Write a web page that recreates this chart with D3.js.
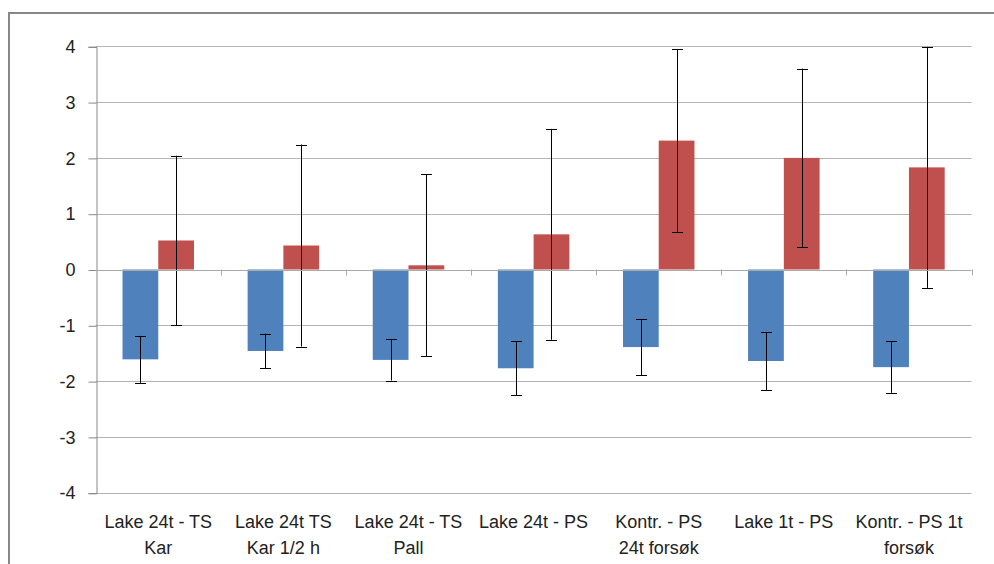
<!DOCTYPE html>
<html><head><meta charset="utf-8">
<script src="https://cdn.jsdelivr.net/npm/d3@7"></script>
<style>body{margin:0;background:#fff}svg{display:block}</style>
</head><body>
<svg id="c" width="994" height="564"></svg>
<script>
const categories = [["Lake 24t - TS","Kar"],["Lake 24t TS","Kar 1/2 h"],["Lake 24t - TS","Pall"],["Lake 24t - PS",""],["Kontr. - PS","24t forsøk"],["Lake 1t - PS",""],["Kontr. - PS 1t","forsøk"]];
const blueValues = [-1.61,-1.46,-1.62,-1.77,-1.39,-1.64,-1.75];
const blueErrors = [0.42,0.31,0.37,0.48,0.50,0.52,0.46];
const redValues = [0.52,0.43,0.075,0.63,2.31,2.00,1.83];
const redErrors = [1.52,1.81,1.63,1.89,1.64,1.60,2.16];
const yTicks = [-4,-3,-2,-1,0,1,2,3,4];

const svg = d3.select("#c");
const L = 95.7, R = 971.5, T = 46.3, B = 492.7;
const font = "'Liberation Sans', Arial, sans-serif";

svg.append("rect").attr("x",9).attr("y",13).attr("width",1000).attr("height",600)
  .attr("fill","none").attr("stroke","#878787").attr("stroke-width",2);

const y = d3.scaleLinear().domain([-4,4]).range([B,T]);
const x0 = d3.scaleBand().domain(d3.range(categories.length)).range([L,R]).paddingInner(0).paddingOuter(0);
const x1 = d3.scaleBand().domain(["b","r"]).range([0,x0.bandwidth()]).paddingOuter(0.75).paddingInner(0);

// gridlines
svg.append("g").selectAll("line").data(yTicks).join("line")
  .attr("x1",L).attr("x2",R).attr("y1",d=>Math.round(y(d))+0.5).attr("y2",d=>Math.round(y(d))+0.5)
  .attr("stroke","#b4b4b4").attr("stroke-width",1);

// y axis
const yAxis = d3.axisLeft(y).tickValues(yTicks).tickSize(8).tickPadding(13).tickFormat(d3.format("d"));
const ga = svg.append("g").attr("transform",`translate(${Math.round(L)+0.5},0.5)`).call(yAxis);
ga.select(".domain").attr("stroke","#888");
ga.selectAll(".tick line").attr("stroke","#888");
ga.selectAll(".tick text").attr("font-family",font).attr("font-size",18).attr("fill","#222")
  .attr("font-family",font).text(d=>d<0?"-"+Math.abs(d):d);
ga.attr("font-family",font);

// bars
const groups = svg.append("g").selectAll("g").data(categories.map((c,i)=>i)).join("g")
  .attr("transform",i=>`translate(${x0(i)},0)`);
groups.append("rect").attr("x",x1("b")).attr("width",x1.bandwidth())
  .attr("y",i=>y(Math.max(0,blueValues[i]))).attr("height",i=>Math.abs(y(blueValues[i])-y(0)))
  .attr("fill","#4F81BD");
groups.append("rect").attr("x",x1("r")).attr("width",x1.bandwidth())
  .attr("y",i=>y(Math.max(0,redValues[i]))).attr("height",i=>Math.abs(y(redValues[i])-y(0)))
  .attr("fill","#C0504D");

// zero axis line with ticks
svg.append("line").attr("x1",L).attr("x2",R).attr("y1",Math.round(y(0))+0.5).attr("y2",Math.round(y(0))+0.5)
  .attr("stroke","#aaa");
svg.append("g").selectAll("line").data(d3.range(1,categories.length+1)).join("line")
  .attr("x1",i=>Math.round(L+i*x0.bandwidth())+0.5).attr("x2",i=>Math.round(L+i*x0.bandwidth())+0.5)
  .attr("y1",y(0)).attr("y2",y(0)+6).attr("stroke","#aaa");

// error bars
function errBars(key, vals, errs){
  const g = groups.append("g");
  const cx = i => Math.round(x0(i)+x1(key)+x1.bandwidth()/2)+0.5 - x0(i);
  g.append("line").attr("x1",cx).attr("x2",cx)
    .attr("y1",i=>y(vals[i]+errs[i])).attr("y2",i=>y(vals[i]-errs[i])).attr("stroke","#000");
  [1,-1].forEach(s=>{
    g.append("line").attr("x1",i=>cx(i)-5.5).attr("x2",i=>cx(i)+5.5)
      .attr("y1",i=>Math.round(y(vals[i]+s*errs[i]))+0.5).attr("y2",i=>Math.round(y(vals[i]+s*errs[i]))+0.5)
      .attr("stroke","#000");
  });
}
errBars("b",blueValues,blueErrors);
errBars("r",redValues,redErrors);

// category labels
const lab = svg.append("g").selectAll("text").data(categories).join("text")
  .attr("x",(d,i)=>x0(i)+x0.bandwidth()/2).attr("y",528)
  .attr("text-anchor","middle").attr("font-family",font).attr("font-size",18).attr("fill","#222");
lab.append("tspan").attr("x",(d,i)=>x0(i)+x0.bandwidth()/2).text(d=>d[0]);
lab.append("tspan").attr("x",(d,i)=>x0(i)+x0.bandwidth()/2).attr("dy",26).text(d=>d[1]);
</script>
</body></html>
